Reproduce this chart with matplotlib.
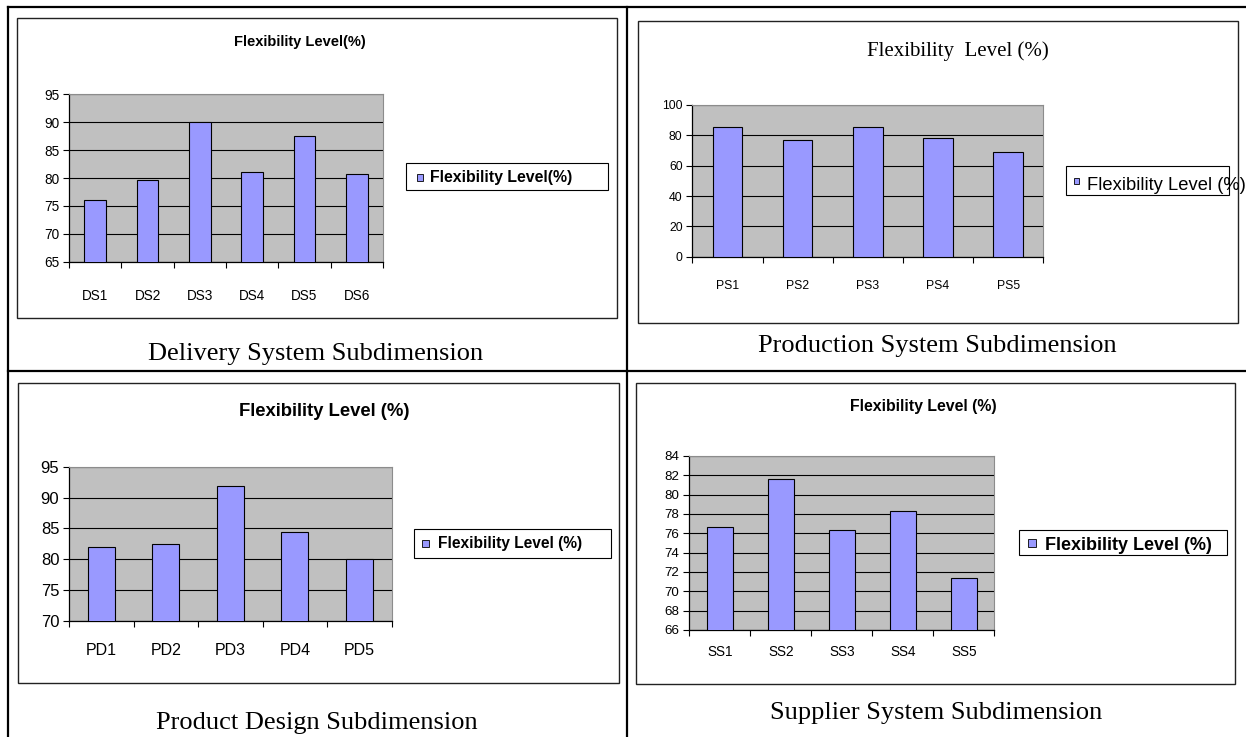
import numpy as np
import matplotlib
matplotlib.use('Agg')
import matplotlib.pyplot as plt
from matplotlib.patches import Rectangle
from matplotlib.lines import Line2D

plt.rcParams['font.family'] = 'Liberation Sans'

W, H = 1246, 737

# values
ds_labels = ['DS1', 'DS2', 'DS3', 'DS4', 'DS5', 'DS6']
ds_values = [76.1, 79.7, 90.0, 81.1, 87.5, 80.8]

ps_labels = ['PS1', 'PS2', 'PS3', 'PS4', 'PS5']
ps_values = [85.8, 76.6, 85.8, 78.1, 68.9]

pd_labels = ['PD1', 'PD2', 'PD3', 'PD4', 'PD5']
pd_values = [82.0, 82.4, 91.9, 84.5, 80.0]

ss_labels = ['SS1', 'SS2', 'SS3', 'SS4', 'SS5']
ss_values = [76.7, 81.6, 76.3, 78.3, 71.4]

BAR = '#9999FF'
BG = '#C0C0C0'

fig = plt.figure(figsize=(W / 100, H / 100), dpi=100)


def fx(x):
    return x / W


def fy(y):
    return 1 - y / H


def bar_panel(box, labels, values, ylim, ystep, ysize, xsize, xpad):
    x0, y0, x1, y1 = box
    ax = fig.add_axes([fx(x0), fy(y1), (x1 - x0) / W, (y1 - y0) / H])
    n = len(labels)
    pos = np.arange(n)
    ax.bar(pos, values, width=0.42, color=BAR, edgecolor='black',
           linewidth=0.8, zorder=3)
    ax.set_facecolor(BG)
    ax.set_xlim(-0.5, n - 0.5)
    ax.set_ylim(*ylim)
    ax.set_yticks(np.arange(ylim[0], ylim[1] + ystep / 2, ystep))
    ax.yaxis.grid(True, color='black', linewidth=0.8)
    ax.set_axisbelow(True)
    ax.set_xticks(pos)
    ax.set_xticklabels(labels)
    ax.set_xticks(np.arange(n + 1) - 0.5, minor=True)
    ax.tick_params(axis='x', which='major', length=0, pad=xpad, labelsize=xsize)
    ax.tick_params(axis='x', which='minor', length=4, width=0.8, direction='out')
    ax.tick_params(axis='y', length=4, width=0.8, pad=3, labelsize=ysize)
    for s in ['top', 'right']:
        ax.spines[s].set_color('#8c8c8c')
    for s in ['left', 'bottom']:
        ax.spines[s].set_linewidth(0.9)
    return ax


def frame(box, lw=1.0, color='#222222'):
    x0, y0, x1, y1 = box
    fig.patches.append(Rectangle((fx(x0), fy(y1)), (x1 - x0) / W, (y1 - y0) / H,
                                 transform=fig.transFigure, fill=False,
                                 edgecolor=color, linewidth=lw))


def legend_box(box, mark, text, tx, ty, size, weight):
    x0, y0, x1, y1 = box
    fig.patches.append(Rectangle((fx(x0), fy(y1)), (x1 - x0) / W, (y1 - y0) / H,
                                 transform=fig.transFigure, facecolor='white',
                                 edgecolor='black', linewidth=0.8))
    mx0, my0, mx1, my1 = mark
    fig.patches.append(Rectangle((fx(mx0), fy(my1)), (mx1 - mx0) / W, (my1 - my0) / H,
                                 transform=fig.transFigure, facecolor=BAR,
                                 edgecolor='black', linewidth=0.6))
    fig.text(fx(tx), fy(ty), text, ha='left', va='center', fontsize=size,
             weight=weight, zorder=5)


# table rules
for (xa, ya, xb, yb) in [(8, 7, 1246, 7), (8, 7, 8, 737), (627, 7, 627, 737),
                         (8, 371, 1246, 371)]:
    fig.add_artist(Line2D([fx(xa), fx(xb)], [fy(ya), fy(yb)],
                          transform=fig.transFigure, color='black', linewidth=1.6))

# chart frames
frame((16.7, 18.3, 616.7, 318.3))
frame((638.3, 20.7, 1237.7, 322.7))
frame((18, 383.3, 618.7, 683.3))
frame((635.7, 383.3, 1235.3, 684))

# delivery system
bar_panel((69, 94.3, 383, 261.7), ds_labels, ds_values, (65, 95), 5, 9.8, 9.8, 20)
fig.text(fx(300), fy(42), 'Flexibility Level(%)', ha='center', va='center',
         fontsize=10.5, weight='bold')
legend_box((406.3, 163.3, 608.3, 190), (416.7, 174, 423.3, 181),
           'Flexibility Level(%)', 430, 177.5, 11.4, 'bold')
fig.text(fx(316), fy(354), 'Delivery System Subdimension', ha='center', va='center',
         fontsize=19, family='Liberation Serif')

# production system
bar_panel((692.3, 105, 1043.3, 256.7), ps_labels, ps_values, (0, 100), 20, 8.8, 8.8, 17)
fig.text(fx(958), fy(51), 'Flexibility  Level (%)', ha='center', va='center',
         fontsize=15, family='Liberation Serif')
legend_box((1066, 166, 1229, 195), (1074, 178, 1079, 184),
           'Flexibility Level (%)', 1087, 186, 13.2, 'normal')
fig.text(fx(937), fy(346), 'Production System Subdimension', ha='center', va='center',
         fontsize=19, family='Liberation Serif')

# product design
bar_panel((69, 466.7, 391.7, 621), pd_labels, pd_values, (70, 95), 5, 12, 11.5, 16)
fig.text(fx(324), fy(411), 'Flexibility Level (%)', ha='center', va='center',
         fontsize=13.3, weight='bold')
legend_box((414.3, 529.3, 610.7, 557.7), (422, 539.5, 429, 546.5),
           'Flexibility Level (%)', 438, 543.5, 11.2, 'bold')
fig.text(fx(317), fy(723), 'Product Design Subdimension', ha='center', va='center',
         fontsize=19, family='Liberation Serif')

# supplier system
bar_panel((689.3, 456, 994.3, 630), ss_labels, ss_values, (66, 84), 2, 9.6, 9.8, 11)
fig.text(fx(923), fy(406), 'Flexibility Level (%)', ha='center', va='center',
         fontsize=11.4, weight='bold')
legend_box((1019, 530.3, 1226.7, 555), (1028, 539, 1036, 546.5),
           'Flexibility Level (%)', 1045, 546, 13, 'bold')
fig.text(fx(936), fy(713), 'Supplier System Subdimension', ha='center', va='center',
         fontsize=19, family='Liberation Serif')

fig.savefig('out.png', dpi=100)
